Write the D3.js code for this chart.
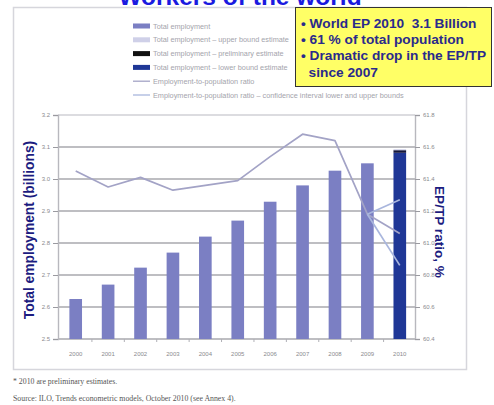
<!DOCTYPE html>
<html>
<head>
<meta charset="utf-8">
<script src="https://cdn.jsdelivr.net/npm/d3@7"></script>
<style>
html,body{margin:0;padding:0;background:#fff;}
svg{display:block;}
</style>
</head>
<body>
<svg id="c" width="494" height="405"></svg>
<script>
// ---- data ----
const years = ["2000","2001","2002","2003","2004","2005","2006","2007","2008","2009","2010"];
const employment = [2.625, 2.67, 2.723, 2.77, 2.82, 2.87, 2.929, 2.98, 3.026, 3.049, null];
const emp2010Lower = 3.082;
const emp2010Prelim = 3.090;
const emp2010Upper = 3.093;
const eptpRatio = [61.45, 61.35, 61.41, 61.33, 61.36, 61.39, 61.54, 61.68, 61.64, 61.18, 61.06];
const eptpUpper2010 = 61.27;
const eptpLower2010 = 60.86;
const leftTicks = [2.5, 2.6, 2.7, 2.8, 2.9, 3.0, 3.1, 3.2];
const rightTicks = [60.4, 60.6, 60.8, 61.0, 61.2, 61.4, 61.6, 61.8];
const legendItems = [
  {label:"Total employment", type:"bar", color:"#7b7fc3"},
  {label:"Total employment – upper bound estimate", type:"bar", color:"#cfd0e8"},
  {label:"Total employment – preliminary estimate", type:"bar", color:"#111111"},
  {label:"Total employment – lower bound estimate", type:"bar", color:"#1f3796"},
  {label:"Employment-to-population ratio", type:"line", color:"#a3a3c6"},
  {label:"Employment-to-population ratio – confidence interval lower and upper bounds", type:"line", color:"#a9b6dd"}
];
const boxLines = ["• World EP 2010  3.1 Billion", "• 61 % of total population", "• Dramatic drop in the EP/TP", "  since 2007"];

const svg = d3.select("#c");
const X0 = 58, X1 = 415, Y0 = 339, Y1 = 115;

// outer frame
svg.append("rect").attr("x",13.5).attr("y",7.5).attr("width",453).attr("height",362)
  .attr("fill","#fff").attr("stroke","#d6d6dc").attr("stroke-width",1.5);

const x = d3.scaleBand().domain(years).range([59.5, 416]).paddingInner(0.61).paddingOuter(0.305);
const yL = d3.scaleLinear().domain([2.5, 3.2]).range([Y0, Y1]);
const yR = d3.scaleLinear().domain([60.4, 61.8]).range([Y0, Y1]);

// gridlines
svg.append("g").selectAll("line").data(leftTicks).join("line")
  .attr("x1",X0).attr("x2",X1).attr("y1",d=>yL(d)).attr("y2",d=>yL(d))
  .attr("stroke", (d,i)=> i===leftTicks.length-1 ? "#d0d0d6" : "#a9a9ae").attr("stroke-width",1.4);

// left axis
const gL = svg.append("g").attr("transform",`translate(${X0},0)`)
  .call(d3.axisLeft(yL).tickValues(leftTicks).tickFormat(d3.format(".1f")).tickSize(5).tickPadding(3));
gL.select(".domain").attr("stroke","#b8b8be").attr("stroke-width",1.4);
gL.selectAll(".tick line").attr("stroke","#9a9aa0");
gL.selectAll("text").attr("font-family","Liberation Sans, Arial").attr("font-size",6).attr("fill","#8a8a8e");

// right axis
const gR = svg.append("g").attr("transform",`translate(${X1},0)`)
  .call(d3.axisRight(yR).tickValues(rightTicks).tickFormat(d3.format(".1f")).tickSize(5).tickPadding(3));
gR.select(".domain").attr("stroke","#b8b8be").attr("stroke-width",1.4);
gR.selectAll(".tick line").attr("stroke","#9a9aa0");
gR.selectAll("text").attr("font-family","Liberation Sans, Arial").attr("font-size",6).attr("fill","#8a8a8e");

// bars 2000-2009
const barData = years.map((y,i)=>({year:y, v:employment[i]})).filter(d=>d.v!=null);
svg.append("g").selectAll("rect").data(barData).join("rect")
  .attr("x",d=>x(d.year)).attr("width",x.bandwidth())
  .attr("y",d=>yL(d.v)).attr("height",d=>yL(2.5)-yL(d.v))
  .attr("fill","#7b7fc3");

// 2010 stacked bar
const stack2010 = [
  {lo:2.5, hi:emp2010Lower, c:"#1f3796"},
  {lo:emp2010Lower, hi:emp2010Prelim, c:"#14163a"},
  {lo:emp2010Prelim, hi:emp2010Upper, c:"#cfd0e8"}
];
svg.append("g").selectAll("rect").data(stack2010).join("rect")
  .attr("x",x("2010")).attr("width",x.bandwidth())
  .attr("y",d=>yL(d.hi)).attr("height",d=>yL(d.lo)-yL(d.hi))
  .attr("fill",d=>d.c);

// x-axis ticks between categories
const bounds = years.slice(1).map(y=> x(y) - x.step()*x.paddingInner()/2);
svg.append("g").selectAll("line").data(bounds).join("line")
  .attr("x1",d=>d).attr("x2",d=>d).attr("y1",Y0).attr("y2",Y0+3)
  .attr("stroke","#b0b0b6").attr("stroke-width",1);
// x labels
svg.append("g").selectAll("text").data(years).join("text")
  .attr("x",d=>x(d)+x.bandwidth()/2).attr("y",356)
  .attr("text-anchor","middle").attr("font-family","Liberation Sans, Arial").attr("font-size",6)
  .attr("fill","#8a8a8e").text(d=>d);

// EP/TP line
const cx = d=> x(d)+x.bandwidth()/2;
const linePts = years.map((y,i)=>[cx(y), yR(eptpRatio[i])]);
const line = d3.line();
svg.append("path").attr("d",line(linePts)).attr("fill","none")
  .attr("stroke","#a3a3c6").attr("stroke-width",1.7).attr("stroke-linejoin","round");
// CI lines
[eptpUpper2010, eptpLower2010].forEach(v=>{
  svg.append("path").attr("d",line([[cx("2009"), yR(eptpRatio[9])],[cx("2010"), yR(v)]]))
    .attr("fill","none").attr("stroke","#a9b6dd").attr("stroke-width",1.7);
});

// legend
const lg = svg.append("g");
legendItems.forEach((it,i)=>{
  const yy = 26 + i*13.8;
  if(it.type==="bar"){
    lg.append("rect").attr("x",133).attr("y",yy-2.5).attr("width",17).attr("height",5).attr("fill",it.color);
  } else {
    lg.append("line").attr("x1",133).attr("x2",150).attr("y1",yy).attr("y2",yy).attr("stroke",it.color).attr("stroke-width",1.3);
  }
  lg.append("text").attr("x",153).attr("y",yy+2.5).attr("font-family","Liberation Sans, Arial")
    .attr("font-size",7.3).attr("fill","#a4a4ac").text(it.label);
});

// axis titles
svg.append("text").attr("transform","translate(34,230) rotate(-90)")
  .attr("text-anchor","middle").attr("font-family","Liberation Sans, Arial").attr("font-weight","bold")
  .attr("font-size",13.8).attr("fill","#1c1c80").text("Total employment (billions)");
svg.append("text").attr("transform","translate(435,232) rotate(90)")
  .attr("text-anchor","middle").attr("font-family","Liberation Sans, Arial").attr("font-weight","bold")
  .attr("font-size",13.6).attr("fill","#1c1c80").text("EP/TP ratio, %");

// title (cut at top, as in the reference)
svg.append("text").attr("x",240).attr("y",5).attr("text-anchor","middle")
  .attr("font-family","Liberation Sans, Arial").attr("font-weight","bold").attr("font-size",24.5)
  .attr("fill","#1a1ae0").text("Workers of the world");

// yellow box
svg.append("rect").attr("x",295.5).attr("y",7.5).attr("width",196).attr("height",79)
  .attr("fill","#ffff66").attr("stroke","#333").attr("stroke-width",1);
svg.append("g").selectAll("text").data(boxLines).join("text")
  .attr("x",301).attr("y",(d,i)=>27.5+i*16.4)
  .attr("font-family","Liberation Sans, Arial").attr("font-weight","bold").attr("font-size",13.7)
  .attr("fill","#2a2a8c").style("white-space","pre").text(d=>d);

// footnotes
svg.append("text").attr("x",13).attr("y",384).attr("font-family","Liberation Serif, Times New Roman")
  .attr("font-size",7.8).attr("fill","#555").text("* 2010 are preliminary estimates.");
svg.append("text").attr("x",13).attr("y",401).attr("font-family","Liberation Serif, Times New Roman")
  .attr("font-size",7.8).attr("fill","#555").text("Source: ILO, Trends econometric models, October 2010 (see Annex 4).");
</script>
</body>
</html>
